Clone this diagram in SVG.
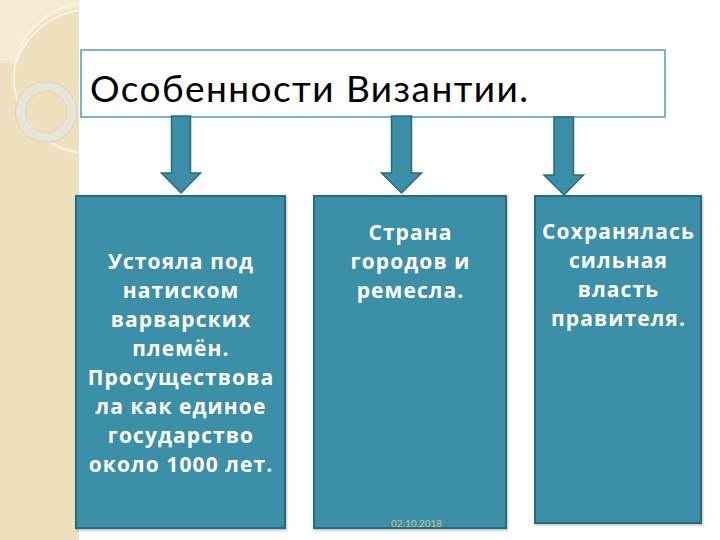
<svg xmlns="http://www.w3.org/2000/svg" width="720" height="540" viewBox="0 0 720 540">
<defs>
<style>
.box{fill:#3a8fa6;stroke:#2b6b7c;stroke-width:2}
.arrow{fill:#3a8fa6;stroke:#2b6b7c;stroke-width:1.5;stroke-linejoin:miter}
.t{font-family:"Open Sans",Lato,"DejaVu Sans",sans-serif;font-weight:bold;font-size:21px;letter-spacing:1.1px;fill:#ffffff;text-anchor:middle}
.title{font-family:Lato,"Open Sans","DejaVu Sans",sans-serif;font-size:37px;fill:#000000}
.deco{fill:none;stroke:#f8f3e6;stroke-width:2}
</style>
<clipPath id="strip"><rect x="0" y="0" width="79" height="540"/></clipPath>
<filter id="sh" x="-5%" y="-5%" width="115%" height="115%"><feDropShadow dx="1" dy="1.5" stdDeviation="1" flood-color="#000" flood-opacity="0.25"/></filter>
</defs>
<rect width="720" height="540" fill="#ffffff"/>
<g id="background">
<rect x="0" y="0" width="79" height="540" fill="#efe1bd"/>
<g clip-path="url(#strip)">
<path d="M0 0 H79 V8 A72 72 0 0 0 16 63 H0 Z" fill="#f5ecd3"/>
<circle cx="89" cy="78" r="75" class="deco"/>
<path d="M16 63 A80 80 0 0 1 79 10" class="deco"/>
<circle cx="46" cy="112" r="25.5" fill="none" stroke="#e9e4d6" stroke-width="10"/>
<circle cx="46" cy="112" r="30.5" fill="none" stroke="#dcd3bf" stroke-width="1"/>
<circle cx="46" cy="112" r="20.5" fill="none" stroke="#dcd3bf" stroke-width="1"/>
</g>
</g>
<g id="title">
<rect x="81" y="50" width="584" height="67" fill="#ffffff" stroke="#4d9fb0" stroke-width="1.5"/>
<text x="90" y="102" class="title" textLength="438" lengthAdjust="spacing">Особенности Византии.</text>
</g>
<g id="connectors">
<path class="arrow" d="M171.5 116 H190.5 V173 H200.5 L181 193 L161.5 173 H171.5 Z"/>
<path class="arrow" d="M391.5 116 H411.5 V173 H421.5 L401.5 193 L381.5 173 H391.5 Z"/>
<path class="arrow" d="M554 117 H573.5 V175 H583.5 L564 195 L544 175 H554 Z"/>
</g>
<g id="node1">
<rect class="box" x="76" y="196" width="209" height="332" filter="url(#sh)"/>
<text class="t" x="181" y="269">Устояла под</text>
<text class="t" x="181" y="298">натиском</text>
<text class="t" x="181" y="327">варварских</text>
<text class="t" x="181" y="356">племён.</text>
<text class="t" x="181" y="385">Просуществова</text>
<text class="t" x="181" y="414">ла как единое</text>
<text class="t" x="181" y="443">государство</text>
<text class="t" x="181" y="472">около 1000 лет.</text>
</g>
<g id="node2">
<rect class="box" x="314" y="196" width="192" height="332" filter="url(#sh)"/>
<text class="t" x="410.5" y="240">Страна</text>
<text class="t" x="410.5" y="269">городов и</text>
<text class="t" x="410.5" y="298">ремесла.</text>
</g>
<g id="node3">
<rect class="box" x="535" y="196" width="166" height="327" filter="url(#sh)"/>
<text class="t" x="618.5" y="239">Сохранялась</text>
<text class="t" x="618.5" y="268">сильная</text>
<text class="t" x="618.5" y="297">власть</text>
<text class="t" x="618.5" y="326">правителя.</text>
</g>
<text x="416.5" y="527" font-family="Lato,'Open Sans',sans-serif" font-size="10" fill="#c9c1a0" text-anchor="middle">02.10.2018</text>
</svg>
